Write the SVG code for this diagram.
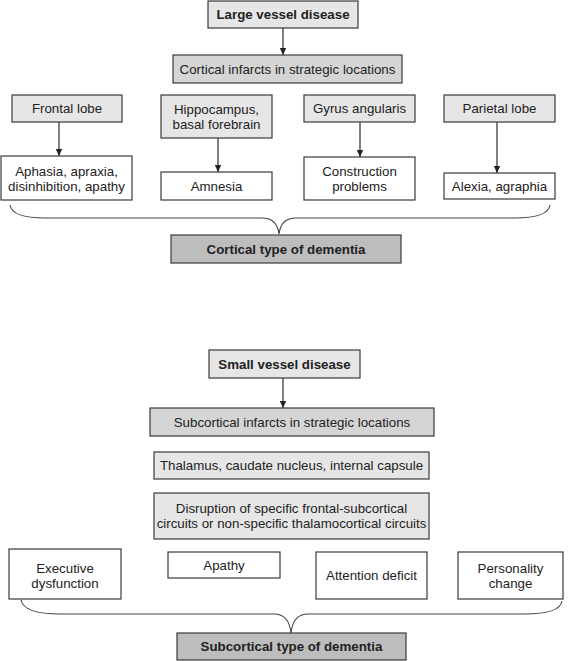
<svg xmlns="http://www.w3.org/2000/svg" width="569" height="661" viewBox="0 0 569 661">
<style>
text{font-family:"Liberation Sans",Arial,sans-serif;font-size:13.3px;fill:#222;text-anchor:middle}
.b{font-weight:bold}
rect{stroke:#3a3a3a;stroke-width:1.2}
.l{fill:#e6e6e6}
.m{fill:#d5d5d5}
.d{fill:#bdbdbd}
.w{fill:#ffffff}
.c{stroke:#2a2a2a;stroke-width:1.2;fill:none}
.br{stroke:#444;stroke-width:1.1;fill:none}
</style>
<defs>
<marker id="ah" markerWidth="8" markerHeight="8" refX="7" refY="4" orient="auto" markerUnits="userSpaceOnUse">
<path d="M0,0.8 L7,4 L0,7.2 Z" fill="#222"/>
</marker>
</defs>
<rect width="569" height="661" fill="#fff" style="stroke:none"/>
<g id="connectors">
<line class="c" x1="283" y1="28" x2="283" y2="55" marker-end="url(#ah)"/>
<line class="c" x1="59" y1="122" x2="59" y2="156" marker-end="url(#ah)"/>
<line class="c" x1="218" y1="138" x2="218" y2="172" marker-end="url(#ah)"/>
<line class="c" x1="360" y1="122" x2="360" y2="157" marker-end="url(#ah)"/>
<line class="c" x1="497" y1="122" x2="497" y2="173" marker-end="url(#ah)"/>
<path class="br" d="M10,205 Q12,218 45,218 L262,218 Q277,218 279,234 Q281,218 296,218 L515,218 Q548,218 550,205"/>
<line class="c" x1="283" y1="378" x2="283" y2="408" marker-end="url(#ah)"/>
<path class="br" d="M21,600 Q24,614 60,614 L274,614 Q289,614 291,633 Q293,614 308,614 L525,614 Q560,614 562,601"/>
</g>
<g id="large-vessel"><rect class="l" x="208" y="1" width="150" height="27"/><text class="b" x="283" y="19">Large vessel disease</text></g>
<g id="cortical-infarcts"><rect class="m" x="173" y="55" width="229" height="28"/><text x="287.5" y="73.5">Cortical infarcts in strategic locations</text></g>
<g id="frontal"><rect class="l" x="12" y="95" width="110" height="27"/><text x="67" y="113">Frontal lobe</text></g>
<g id="hippocampus"><rect class="l" x="161" y="95" width="111" height="43"/><text x="216.5" y="113.5">Hippocampus,</text><text x="216.5" y="128.5">basal forebrain</text></g>
<g id="gyrus"><rect class="l" x="304" y="95" width="111" height="27"/><text x="359.5" y="113">Gyrus angularis</text></g>
<g id="parietal"><rect class="l" x="444" y="95" width="111" height="27"/><text x="499.5" y="113">Parietal lobe</text></g>
<g id="aphasia"><rect class="w" x="1" y="156" width="131" height="44"/><text x="66.5" y="175.5">Aphasia, apraxia,</text><text x="66.5" y="190.5">disinhibition, apathy</text></g>
<g id="amnesia"><rect class="w" x="161" y="172" width="111" height="28"/><text x="216.5" y="190.5">Amnesia</text></g>
<g id="construction"><rect class="w" x="304" y="157" width="111" height="43"/><text x="359.5" y="176">Construction</text><text x="359.5" y="191">problems</text></g>
<g id="alexia"><rect class="w" x="444" y="173" width="111" height="26"/><text x="499.5" y="190.5">Alexia, agraphia</text></g>
<g id="cortical-type"><rect class="d" x="171" y="235" width="230" height="28"/><text class="b" x="286" y="253.5">Cortical type of dementia</text></g>
<g id="small-vessel"><rect class="l" x="209" y="350" width="151" height="28"/><text class="b" x="284.5" y="368.5">Small vessel disease</text></g>
<g id="subcortical-infarcts"><rect class="m" x="150" y="408" width="284" height="28"/><text x="292" y="426.5">Subcortical infarcts in strategic locations</text></g>
<g id="thalamus"><rect class="l" x="154" y="452" width="275" height="27"/><text x="291.5" y="470">Thalamus, caudate nucleus, internal capsule</text></g>
<g id="disruption"><rect class="l" x="154" y="493" width="275" height="46"/><text x="291.5" y="512.5">Disruption of specific frontal-subcortical</text><text x="291.5" y="527.5">circuits or non-specific thalamocortical circuits</text></g>
<g id="executive"><rect class="w" x="9" y="549" width="112" height="50"/><text x="65" y="572.5">Executive</text><text x="65" y="587.5">dysfunction</text></g>
<g id="apathy"><rect class="w" x="168" y="552" width="112" height="26"/><text x="224" y="569.5">Apathy</text></g>
<g id="attention"><rect class="w" x="316" y="552" width="111" height="47"/><text x="371.5" y="580">Attention deficit</text></g>
<g id="personality"><rect class="w" x="458" y="552" width="105" height="47"/><text x="510.5" y="573">Personality</text><text x="510.5" y="588">change</text></g>
<g id="subcortical-type"><rect class="d" x="177" y="633" width="229" height="27"/><text class="b" x="291.5" y="651">Subcortical type of dementia</text></g>
</svg>
